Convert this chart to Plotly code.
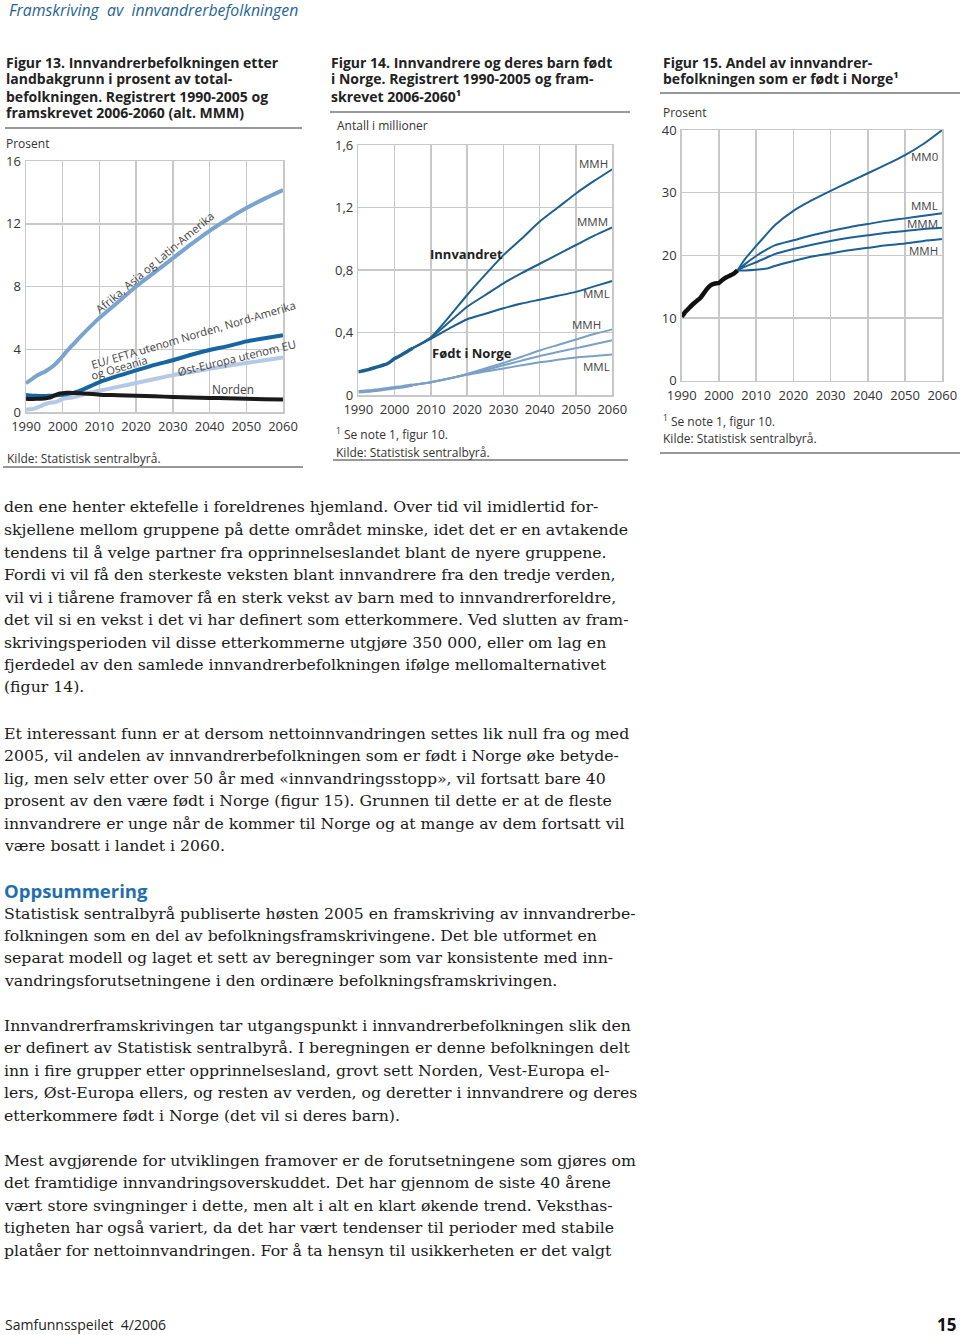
import plotly.graph_objects as go

# ---------------- DATA ----------------
# Figur 13 (prosent av totalbefolkningen)
years13 = [1990, 1991, 1992, 1993, 1994, 1995, 1996, 1997, 1998, 1999, 2000, 2001, 2002, 2003, 2004, 2005,
           2010, 2015, 2020, 2025, 2030, 2035, 2040, 2045, 2050, 2055, 2060]
afrika = [1.84, 2.0, 2.16, 2.33, 2.45, 2.55, 2.7, 2.86, 3.05, 3.3, 3.55, 3.85, 4.1, 4.35, 4.6, 4.85,
          6.0, 7.0, 8.0, 8.9, 9.8, 10.7, 11.55, 12.3, 13.0, 13.6, 14.15]
eu_efta = [1.08, 1.06, 1.04, 1.03, 1.02, 1.02, 1.03, 1.04, 1.06, 1.08, 1.1, 1.13, 1.17, 1.22, 1.3, 1.38,
           1.9, 2.3, 2.65, 3.0, 3.3, 3.65, 3.95, 4.2, 4.5, 4.7, 4.9]
ost_europa = [0.15, 0.17, 0.2, 0.28, 0.37, 0.48, 0.56, 0.6, 0.63, 0.72, 0.84, 0.88, 0.9, 0.95, 1.0, 1.07,
              1.35, 1.6, 1.85, 2.1, 2.35, 2.55, 2.75, 2.95, 3.12, 3.3, 3.47]
norden = [0.85, 0.83, 0.83, 0.84, 0.85, 0.86, 0.9, 0.97, 1.08, 1.17, 1.2, 1.22, 1.22, 1.21, 1.2, 1.19,
          1.1, 1.07, 1.03, 1.0, 0.96, 0.93, 0.9, 0.87, 0.84, 0.82, 0.8]

# Figur 14 (antall i millioner)
years_hist = [1990, 1991, 1992, 1993, 1994, 1995, 1996, 1997, 1998, 1999, 2000, 2001, 2002, 2003, 2004, 2005]
innv_hist = [0.148, 0.153, 0.158, 0.164, 0.171, 0.178, 0.185, 0.192, 0.2, 0.215, 0.233, 0.245, 0.258, 0.272, 0.286, 0.300]
fodt_hist = [0.02, 0.022, 0.024, 0.026, 0.028, 0.031, 0.034, 0.037, 0.04, 0.043, 0.046, 0.049, 0.052, 0.056, 0.06, 0.064]
years14_proj = [2005, 2010, 2015, 2020, 2025, 2030, 2035, 2040, 2045, 2050, 2055, 2060]
innv_mmh = [0.30, 0.37, 0.50, 0.64, 0.77, 0.895, 1.0, 1.11, 1.20, 1.29, 1.37, 1.445]
innv_mmm = [0.30, 0.365, 0.465, 0.565, 0.64, 0.715, 0.78, 0.84, 0.90, 0.96, 1.02, 1.073]
innv_mml = [0.30, 0.36, 0.425, 0.485, 0.52, 0.555, 0.585, 0.61, 0.635, 0.66, 0.695, 0.73]
fodt_mmh = [0.064, 0.082, 0.105, 0.135, 0.17, 0.205, 0.245, 0.285, 0.32, 0.355, 0.39, 0.42]
fodt_mmm = [0.064, 0.082, 0.105, 0.133, 0.16, 0.19, 0.22, 0.25, 0.275, 0.30, 0.325, 0.35]
fodt_mml = [0.064, 0.082, 0.105, 0.13, 0.15, 0.17, 0.19, 0.21, 0.225, 0.24, 0.25, 0.26]

# Figur 15 (prosent født i Norge)
andel_hist = [10.2, 11.0, 11.6, 12.2, 12.7, 13.2, 14.0, 14.8, 15.3, 15.5, 15.6, 16.1, 16.5, 16.8, 17.1, 17.6]
years15_proj = [2005, 2007, 2010, 2013, 2015, 2020, 2025, 2030, 2035, 2040, 2045, 2050, 2055, 2060]
andel_mm0 = [17.6, 19.4, 21.5, 23.5, 24.8, 27.1, 28.8, 30.3, 31.7, 33.1, 34.5, 36.0, 37.8, 40.0]
andel_mml = [17.6, 18.6, 19.9, 21.0, 21.6, 22.4, 23.2, 23.9, 24.5, 25.0, 25.5, 25.9, 26.3, 26.7]
andel_mmm = [17.6, 18.2, 18.9, 19.7, 20.2, 21.0, 21.7, 22.3, 22.8, 23.2, 23.6, 23.9, 24.2, 24.4]
andel_mmh = [17.6, 17.6, 17.7, 17.9, 18.3, 19.1, 19.8, 20.3, 20.8, 21.2, 21.6, 21.9, 22.3, 22.6]

x_ticks = [1990, 2000, 2010, 2020, 2030, 2040, 2050, 2060]
y13_ticks = [0, 4, 8, 12, 16]
y14_ticks = [0, 0.4, 0.8, 1.2, 1.6]
y14_text = ["0", "0,4", "0,8", "1,2", "1,6"]
y15_ticks = [0, 10, 20, 30, 40]

header = "Framskriving  av  innvandrerbefolkningen"
title13 = ["Figur 13. Innvandrerbefolkningen etter", "landbakgrunn i prosent av total-",
           "befolkningen. Registrert 1990-2005 og", "framskrevet 2006-2060 (alt. MMM)"]
title14 = ["Figur 14. Innvandrere og deres barn født", "i Norge. Registrert 1990-2005 og fram-",
           "skrevet 2006-2060¹"]
title15 = ["Figur 15. Andel av innvandrer-", "befolkningen som er født i Norge¹"]

para1 = ["den ene henter ektefelle i foreldrenes hjemland. Over tid vil imidlertid for-",
         "skjellene mellom gruppene på dette området minske, idet det er en avtakende",
         "tendens til å velge partner fra opprinnelseslandet blant de nyere gruppene.",
         "Fordi vi vil få den sterkeste veksten blant innvandrere fra den tredje verden,",
         "vil vi i tiårene framover få en sterk vekst av barn med to innvandrerforeldre,",
         "det vil si en vekst i det vi har definert som etterkommere. Ved slutten av fram-",
         "skrivingsperioden vil disse etterkommerne utgjøre 350 000, eller om lag en",
         "fjerdedel av den samlede innvandrerbefolkningen ifølge mellomalternativet",
         "(figur 14)."]
para2 = ["Et interessant funn er at dersom nettoinnvandringen settes lik null fra og med",
         "2005, vil andelen av innvandrerbefolkningen som er født i Norge øke betyde-",
         "lig, men selv etter over 50 år med «innvandringsstopp», vil fortsatt bare 40",
         "prosent av den være født i Norge (figur 15). Grunnen til dette er at de fleste",
         "innvandrere er unge når de kommer til Norge og at mange av dem fortsatt vil",
         "være bosatt i landet i 2060."]
para3 = ["Statistisk sentralbyrå publiserte høsten 2005 en framskriving av innvandrerbe-",
         "folkningen som en del av befolkningsframskrivingene. Det ble utformet en",
         "separat modell og laget et sett av beregninger som var konsistente med inn-",
         "vandringsforutsetningene i den ordinære befolkningsframskrivingen."]
para4 = ["Innvandrerframskrivingen tar utgangspunkt i innvandrerbefolkningen slik den",
         "er definert av Statistisk sentralbyrå. I beregningen er denne befolkningen delt",
         "inn i fire grupper etter opprinnelsesland, grovt sett Norden, Vest-Europa el-",
         "lers, Øst-Europa ellers, og resten av verden, og deretter i innvandrere og deres",
         "etterkommere født i Norge (det vil si deres barn)."]
para5 = ["Mest avgjørende for utviklingen framover er de forutsetningene som gjøres om",
         "det framtidige innvandringsoverskuddet. Det har gjennom de siste 40 årene",
         "vært store svingninger i dette, men alt i alt en klart økende trend. Veksthas-",
         "tigheten har også variert, da det har vært tendenser til perioder med stabile",
         "platåer for nettoinnvandringen. For å ta hensyn til usikkerheten er det valgt"]

# ---------------- STYLE ----------------
W, H = 960, 1335
SANS = "Open Sans"
SERIF = "DejaVu Serif"
GRID = "#c8c8c8"
TXT = "#333333"


def px(x):
    return x / W


def py(y):
    return 1 - y / H


fig = go.Figure()


def line(x, y, color, width, xa, ya):
    fig.add_trace(go.Scatter(x=x, y=y, mode="lines", xaxis=xa, yaxis=ya,
                             line=dict(color=color, width=width, shape="spline", smoothing=0.6),
                             hoverinfo="skip"))


# Figur 13
line(years13, ost_europa, "#b4c9e4", 4, "x", "y")
line(years13, afrika, "#7aa3cd", 4, "x", "y")
line(years13, eu_efta, "#1766a3", 4, "x", "y")
line(years13, norden, "#1a1a1a", 4, "x", "y")

# Figur 14
C_INNV = "#1d5f8f"
C_FODT = "#7aa0c8"
for s in (fodt_mml, fodt_mmm, fodt_mmh):
    line(years14_proj, s, C_FODT, 2, "x2", "y2")
line(years_hist, fodt_hist, C_FODT, 3.5, "x2", "y2")
for s in (innv_mml, innv_mmm, innv_mmh):
    line(years14_proj, s, C_INNV, 2, "x2", "y2")
line(years_hist, innv_hist, C_INNV, 3.5, "x2", "y2")

# Figur 15
C15 = "#1d6096"
for s in (andel_mmh, andel_mmm, andel_mml, andel_mm0):
    line(years15_proj, s, C15, 2, "x3", "y3")
line(years_hist, andel_hist, "#111111", 4.5, "x3", "y3")


def xax(l, r, anchor):
    return dict(domain=[px(l), px(r)], anchor=anchor, range=[1990, 2060], tickvals=x_ticks,
                showgrid=True, gridcolor=GRID, gridwidth=1.5, showline=True, linecolor=GRID,
                linewidth=1.5, mirror=True, zeroline=False, ticks="", automargin=False,
                ticklabelstandoff=2,
                tickfont=dict(family=SANS, size=13, color=TXT), fixedrange=True)


def yax(b, t, anchor, rng, vals, text=None):
    d = dict(domain=[py(b), py(t)], anchor=anchor, range=rng, tickvals=vals,
             showgrid=True, gridcolor=GRID, gridwidth=1.5, showline=True, linecolor=GRID,
             linewidth=1.5, mirror=True, zeroline=False, ticks="", automargin=False,
             ticklabelstandoff=1,
             tickfont=dict(family=SANS, size=13, color=TXT), fixedrange=True)
    if text:
        d["ticktext"] = text
    return d


fig.update_layout(
    width=W, height=H, autosize=False, margin=dict(l=0, r=0, t=0, b=0, pad=0, autoexpand=False),
    paper_bgcolor="white", plot_bgcolor="white", showlegend=False,
    xaxis=xax(26, 283, "y"), yaxis=yax(412, 161, "x", [0, 16], y13_ticks),
    xaxis2=xax(358.3, 612.3, "y2"), yaxis2=yax(395, 145, "x2", [0, 1.6], y14_ticks, y14_text),
    xaxis3=xax(681.7, 942.3, "y3"), yaxis3=yax(380.7, 130, "x3", [0, 40], y15_ticks),
)

ann = []


def t(x, y, s, size=13, color=TXT, family=SANS, weight="normal", xanchor="left", style="normal"):
    ann.append(dict(x=px(x), y=py(y), xref="paper", yref="paper", text=s, showarrow=False,
                    xanchor=xanchor, yanchor="middle",
                    font=dict(family=family, size=size, color=color, weight=weight, style=style)))


def td(x, y, s, xa, ya, size=12, color="#444444", weight="normal", angle=0, xanchor="center"):
    ann.append(dict(x=x, y=y, xref=xa, yref=ya, text=s, showarrow=False, textangle=angle,
                    xanchor=xanchor, yanchor="middle",
                    font=dict(family=SANS, size=size, color=color, weight=weight)))


# header
t(7, 10, header, size=15.8, color="#1f6497", style="italic")

# titles
for i, s in enumerate(title13):
    t(4, 62 + 17 * i, s, size=14, color="#222222", weight="bold")
for i, s in enumerate(title14):
    t(329, 62 + 17 * i, s, size=14, color="#222222", weight="bold")
for i, s in enumerate(title15):
    t(661, 62 + 17 * i, s, size=14, color="#222222", weight="bold")

# axis captions, notes
t(4, 144, "Prosent", size=12)
t(335, 126, "Antall i millioner", size=12)
t(661, 112, "Prosent", size=12)
t(5, 458, "Kilde: Statistisk sentralbyrå.", size=12)
t(334, 434, "<sup>1</sup> Se note 1, figur 10.", size=12)
t(334, 452, "Kilde: Statistisk sentralbyrå.", size=12)
t(661, 421, "<sup>1</sup> Se note 1, figur 10.", size=12)
t(661, 439, "Kilde: Statistisk sentralbyrå.", size=12)

# series labels figur 13
td(2025, 9.5, "Afrika, Asia og Latin-Amerika", "x", "y", size=11.3, angle=-40)
td(2035.6, 4.97, "EU/ EFTA utenom Norden, Nord-Amerika", "x", "y", size=11.2, angle=-16.5)
td(2015.2, 2.85, "og Oseania", "x", "y", size=11.2, angle=-16.5)
td(2047.5, 3.45, "Øst-Europa utenom EU", "x", "y", size=11.3, angle=-13.5)
td(2046.5, 1.47, "Norden", "x", "y", size=11.8)

# labels figur 14
td(2019.7, 0.90, "Innvandret", "x2", "y2", size=13, color="#222222", weight="bold")
td(2021.3, 0.27, "Født i Norge", "x2", "y2", size=13, color="#222222", weight="bold")
td(2059.3, 1.48, "MMH", "x2", "y2", size=11.5, xanchor="right")
td(2059.3, 1.11, "MMM", "x2", "y2", size=11.5, xanchor="right")
td(2059.8, 0.65, "MML", "x2", "y2", size=11.5, xanchor="right")
td(2057.4, 0.45, "MMH", "x2", "y2", size=11.5, xanchor="right")
td(2063.7, 0.295, "MMM", "x2", "y2", size=11.5, xanchor="right")
td(2059.8, 0.185, "MML", "x2", "y2", size=11.5, xanchor="right")

# labels figur 15
td(2059.5, 35.8, "MM0", "x3", "y3", size=11.5, xanchor="right")
td(2059.5, 28.0, "MML", "x3", "y3", size=11.5, xanchor="right")
td(2059.5, 25.1, "MMM", "x3", "y3", size=11.5, xanchor="right")
td(2059.5, 20.8, "MMH", "x3", "y3", size=11.5, xanchor="right")

# body text
BODY = "#1a1a1a"
LH = 22.5
BS = 15.7
BX = 2
for i, s in enumerate(para1):
    t(BX, 507 + LH * i, s, size=BS, color=BODY, family=SERIF)
for i, s in enumerate(para2):
    t(BX, 733 + LH * i, s, size=BS, color=BODY, family=SERIF)
t(2, 890, "Oppsummering", size=18.5, color="#1f6fae", weight="bold")
for i, s in enumerate(para3):
    t(BX, 913 + LH * i, s, size=BS, color=BODY, family=SERIF)
for i, s in enumerate(para4):
    t(BX, 1025 + LH * i, s, size=BS, color=BODY, family=SERIF)
for i, s in enumerate(para5):
    t(BX, 1160 + LH * i, s, size=BS, color=BODY, family=SERIF)

# footer
t(3, 1324, "Samfunnsspeilet  4/2006", size=14, color="#222222")
t(958, 1324, "15", size=17, color="#111111", weight="bold", xanchor="right")

fig.update_layout(annotations=ann)

# rules under / over figures
rules = [(5, 302, 128), (3, 303, 467), (330, 630, 112), (333, 628, 460), (660, 960, 93), (660, 960, 453)]
shapes = []
for x0, x1, yy in rules:
    shapes.append(dict(type="line", xref="paper", yref="paper", x0=px(x0), x1=px(x1),
                       y0=py(yy), y1=py(yy), line=dict(color="#333333", width=1.2)))
fig.update_layout(shapes=shapes)

fig.write_html("out.html", config={"staticPlot": True, "responsive": False},
               post_script="document.body.style.margin='0';document.body.style.overflow='hidden';")
